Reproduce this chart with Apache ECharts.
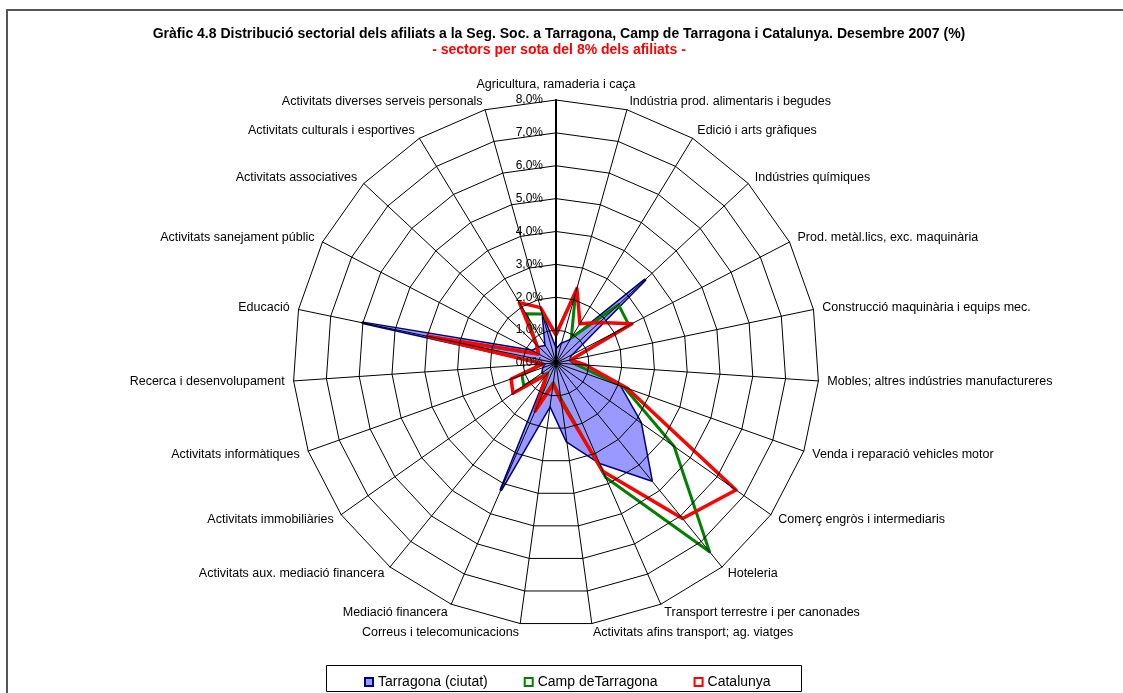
<!DOCTYPE html>
<html>
<head>
<meta charset="utf-8">
<script src="https://cdn.jsdelivr.net/npm/echarts@6/dist/echarts.min.js"></script>
<style>
  html, body { margin: 0; padding: 0; background: #fff; }
  #chart { width: 1123px; height: 693px; }
</style>
</head>
<body>
<div id="chart"></div>
<script>
// Sectors, in clockwise order starting from the top of the radar
const sectors = [
  'Agricultura, ramaderia i caça',
  'Indústria prod. alimentaris i begudes',
  'Edició i arts gràfiques',
  'Indústries químiques',
  'Prod. metàl.lics, exc. maquinària',
  'Construcció maquinària i equips mec.',
  'Mobles; altres indústries manufactureres',
  'Venda i reparació vehicles motor',
  'Comerç engròs i intermediaris',
  'Hoteleria',
  'Transport terrestre i per canonades',
  'Activitats afins transport; ag. viatges',
  'Correus i telecomunicacions',
  'Mediació financera',
  'Activitats aux. mediació financera',
  'Activitats immobiliàries',
  'Activitats informàtiques',
  'Recerca i desenvolupament',
  'Educació',
  'Activitats sanejament públic',
  'Activitats associatives',
  'Activitats culturals i esportives',
  'Activitats diverses serveis personals'
];

// Share of affiliates per sector (%)
const tarragona = [0.4, 0.6, 0.8, 3.7, 0.5, 0.4, 0.5, 2.05, 3.15, 4.6, 3.3, 2.4,
                   1.3, 4.2, 0.4, 0.5, 0.4, 0.3, 6.0, 0.8, 0.7, 0.6, 1.45];
const campTarragona = [0.9, 2.2, 0.9, 2.6, 2.5, 0.45, 0.6, 2.2, 4.4, 7.4, 3.8, 1.1,
                       0.6, 1.5, 0.4, 1.2, 1.1, 0.4, 3.8, 0.6, 0.8, 1.75, 1.55];
const catalunya = [0.85, 2.35, 1.4, 1.8, 2.6, 0.45, 0.9, 2.3, 6.7, 6.1, 3.6, 1.2,
                   0.65, 1.6, 0.45, 1.6, 1.45, 0.4, 4.0, 0.6, 0.8, 2.15, 1.75];

const seriesNames = ['Tarragona (ciutat)', 'Camp deTarragona', 'Catalunya'];
const axisMax = 8;

const FONT = '"Liberation Sans", Arial, sans-serif';

// ECharts lays radar axes out counter-clockwise; reorder so the sectors run clockwise
const order = [0].concat(sectors.map((_, i) => i).slice(1).reverse());
const pick = arr => order.map(i => arr[i]);

const indicators = order.map((i, k) => {
  const ind = { name: sectors[i], min: 0, max: axisMax };
  if (k === 0) {
    ind.axisLabel = {
      show: true,
      color: '#000',
      fontFamily: FONT,
      fontSize: 12,
      margin: 13,
      formatter: v => v.toFixed(1).replace('.', ',') + '%'
    };
    ind.axisLine = { lineStyle: { color: '#000', width: 2 } };
  }
  return ind;
});

const chart = echarts.init(document.getElementById('chart'), null, { renderer: 'canvas' });

chart.setOption({
  animation: false,
  backgroundColor: '#fff',
  title: [
    {
      text: 'Gràfic 4.8 Distribució sectorial dels afiliats a la Seg. Soc. a Tarragona, Camp de Tarragona i Catalunya. Desembre 2007 (%)',
      left: 554, top: 22, textAlign: 'center',
      textStyle: { fontFamily: FONT, fontSize: 14, fontWeight: 'bold', color: '#000' }
    },
    {
      text: '- sectors per sota del 8% dels afiliats -',
      left: 554, top: 38, textAlign: 'center',
      textStyle: { fontFamily: FONT, fontSize: 14, fontWeight: 'bold', color: '#ff0000' }
    }
  ],
  graphic: [
    {
      type: 'rect', z: -1,
      shape: { x: 7, y: 10, width: 1300, height: 900 },
      style: { fill: 'none', stroke: '#555', lineWidth: 2 }
    },
    {
      type: 'rect', z: -1,
      shape: { x: 326.5, y: 665.5, width: 475, height: 26 },
      style: { fill: '#fff', stroke: '#000', lineWidth: 1 }
    }
  ],
  legend: {
    left: 359, top: 670,
    itemWidth: 8, itemHeight: 8, itemGap: 36,
    textStyle: { fontFamily: FONT, fontSize: 14, color: '#000' },
    data: [
      { name: seriesNames[0], icon: 'rect', itemStyle: { color: '#9999ff', borderColor: '#000080', borderWidth: 2 } },
      { name: seriesNames[1], icon: 'rect', itemStyle: { color: '#fff', borderColor: '#008000', borderWidth: 2 } },
      { name: seriesNames[2], icon: 'rect', itemStyle: { color: '#fff', borderColor: '#ff0000', borderWidth: 2 } }
    ]
  },
  radar: {
    z: 5,
    center: [556, 363],
    radius: 263,
    startAngle: 90,
    splitNumber: 8,
    shape: 'polygon',
    nameGap: 9,
    axisName: { color: '#000', fontFamily: FONT, fontSize: 12.5 },
    axisLine: { lineStyle: { color: '#000', width: 1 } },
    axisTick: { show: false },
    axisLabel: { show: false },
    splitLine: { lineStyle: { color: '#000', width: 1 } },
    splitArea: { show: false },
    indicator: indicators
  },
  series: [
    {
      type: 'radar', name: seriesNames[0], z: 2, symbol: 'none',
      lineStyle: { color: '#000080', width: 3 },
      itemStyle: { color: '#000080' },
      areaStyle: { color: '#9999ff', opacity: 1 },
      data: [{ name: seriesNames[0], value: pick(tarragona) }]
    },
    {
      type: 'radar', name: seriesNames[1], z: 3, symbol: 'none',
      lineStyle: { color: '#008000', width: 3 },
      itemStyle: { color: '#008000' },
      data: [{ name: seriesNames[1], value: pick(campTarragona) }]
    },
    {
      type: 'radar', name: seriesNames[2], z: 4, symbol: 'none',
      lineStyle: { color: '#ff0000', width: 3.5 },
      itemStyle: { color: '#ff0000' },
      data: [{ name: seriesNames[2], value: pick(catalunya) }]
    }
  ]
});
</script>
</body>
</html>
